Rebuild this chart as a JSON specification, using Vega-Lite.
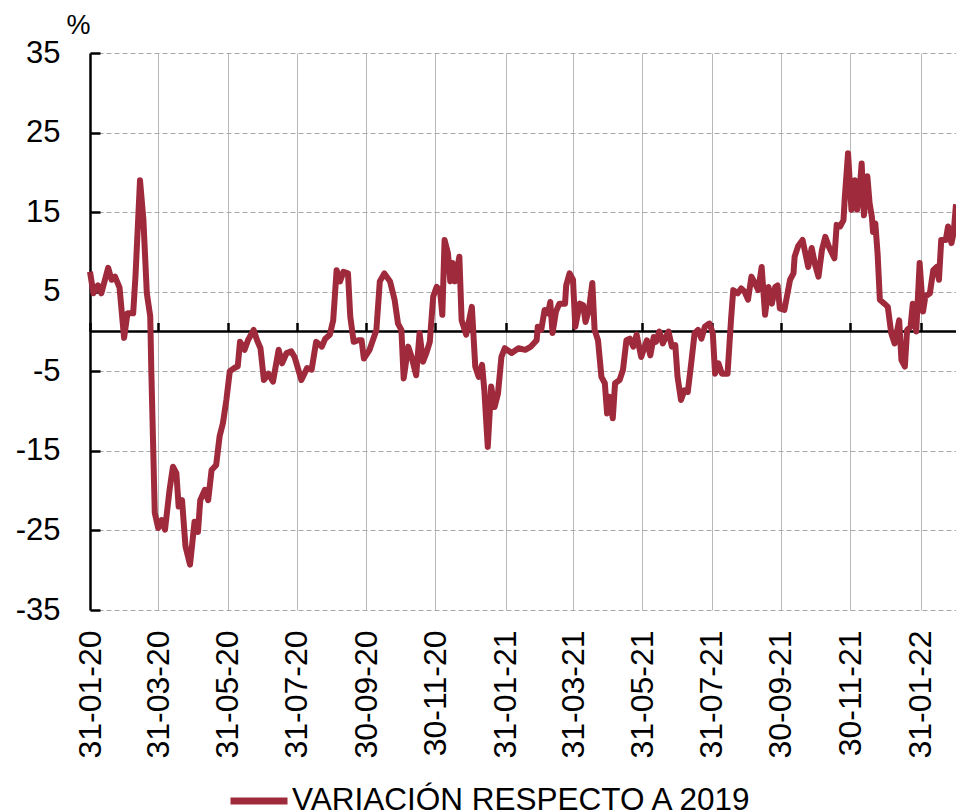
{
  "$schema": "https://vega.github.io/schema/vega-lite/v6.json",
  "width": 866,
  "height": 557,
  "autosize": {"type": "none"},
  "padding": {"left": 90, "top": 53, "right": 0, "bottom": 201},
  "background": "white",
  "config": {"font": "Liberation Sans", "view": {"stroke": null}},
  "data": {"values": [
    {"d":"2020-01-31","v":7.5},{"d":"2020-02-03","v":4.8},{"d":"2020-02-07","v":5.8},{"d":"2020-02-10","v":4.8},
    {"d":"2020-02-16","v":8.0},{"d":"2020-02-19","v":6.5},{"d":"2020-02-22","v":6.9},{"d":"2020-02-26","v":5.5},
    {"d":"2020-03-01","v":-0.8},{"d":"2020-03-04","v":2.3},{"d":"2020-03-09","v":2.3},{"d":"2020-03-11","v":6.9},
    {"d":"2020-03-15","v":19.0},{"d":"2020-03-18","v":14.0},{"d":"2020-03-21","v":4.8},{"d":"2020-03-24","v":1.9},
    {"d":"2020-03-25","v":-5.2},{"d":"2020-03-28","v":-22.8},{"d":"2020-03-31","v":-24.7},{"d":"2020-04-03","v":-23.7},
    {"d":"2020-04-06","v":-24.9},{"d":"2020-04-10","v":-19.9},{"d":"2020-04-13","v":-17.0},{"d":"2020-04-16","v":-17.8},
    {"d":"2020-04-18","v":-22.0},{"d":"2020-04-21","v":-21.2},{"d":"2020-04-24","v":-27.0},{"d":"2020-04-28","v":-29.3},
    {"d":"2020-05-02","v":-23.9},{"d":"2020-05-05","v":-25.2},{"d":"2020-05-07","v":-21.2},{"d":"2020-05-11","v":-19.9},
    {"d":"2020-05-14","v":-21.2},{"d":"2020-05-17","v":-17.4},{"d":"2020-05-21","v":-16.8},{"d":"2020-05-24","v":-13.2},
    {"d":"2020-05-27","v":-11.5},{"d":"2020-05-30","v":-8.6},{"d":"2020-06-02","v":-5.0},{"d":"2020-06-07","v":-4.5},
    {"d":"2020-06-09","v":-4.4},{"d":"2020-06-11","v":-1.3},{"d":"2020-06-15","v":-2.3},{"d":"2020-06-18","v":-1.1},
    {"d":"2020-06-23","v":0.2},{"d":"2020-06-26","v":-1.1},{"d":"2020-06-29","v":-2.1},{"d":"2020-07-02","v":-6.1},
    {"d":"2020-07-06","v":-5.3},{"d":"2020-07-10","v":-6.3},{"d":"2020-07-15","v":-2.3},{"d":"2020-07-18","v":-4.0},
    {"d":"2020-07-22","v":-2.7},{"d":"2020-07-26","v":-2.5},{"d":"2020-07-29","v":-3.2},{"d":"2020-08-04","v":-6.1},
    {"d":"2020-08-09","v":-4.6},{"d":"2020-08-13","v":-4.8},{"d":"2020-08-17","v":-1.3},{"d":"2020-08-22","v":-1.9},
    {"d":"2020-08-25","v":-0.9},{"d":"2020-08-29","v":-0.4},{"d":"2020-09-01","v":1.4},{"d":"2020-09-04","v":7.7},
    {"d":"2020-09-07","v":6.3},{"d":"2020-09-10","v":7.5},{"d":"2020-09-14","v":7.3},{"d":"2020-09-16","v":1.9},
    {"d":"2020-09-19","v":-1.3},{"d":"2020-09-23","v":-1.1},{"d":"2020-09-26","v":-1.1},{"d":"2020-09-28","v":-3.4},
    {"d":"2020-10-03","v":-2.3},{"d":"2020-10-09","v":0.2},{"d":"2020-10-12","v":6.3},{"d":"2020-10-16","v":7.3},
    {"d":"2020-10-21","v":6.3},{"d":"2020-10-25","v":4.0},{"d":"2020-10-28","v":1.0},{"d":"2020-10-31","v":0.2},
    {"d":"2020-11-02","v":-5.9},{"d":"2020-11-06","v":-1.9},{"d":"2020-11-09","v":-3.2},{"d":"2020-11-13","v":-5.5},
    {"d":"2020-11-16","v":-0.2},{"d":"2020-11-19","v":-3.8},{"d":"2020-11-22","v":-2.7},{"d":"2020-11-25","v":-1.3},
    {"d":"2020-11-28","v":4.4},{"d":"2020-12-01","v":5.6},{"d":"2020-12-04","v":5.2},{"d":"2020-12-06","v":2.1},
    {"d":"2020-12-08","v":11.5},{"d":"2020-12-11","v":9.8},{"d":"2020-12-13","v":6.3},{"d":"2020-12-15","v":8.6},
    {"d":"2020-12-17","v":6.3},{"d":"2020-12-21","v":9.4},{"d":"2020-12-23","v":1.4},{"d":"2020-12-27","v":-0.4},
    {"d":"2020-12-29","v":1.0},{"d":"2021-01-01","v":3.1},{"d":"2021-01-04","v":-4.4},{"d":"2021-01-07","v":-5.7},
    {"d":"2021-01-10","v":-4.2},{"d":"2021-01-12","v":-7.4},{"d":"2021-01-15","v":-14.5},{"d":"2021-01-18","v":-6.9},
    {"d":"2021-01-21","v":-9.5},{"d":"2021-01-24","v":-7.8},{"d":"2021-01-27","v":-3.2},{"d":"2021-01-30","v":-2.1},
    {"d":"2021-02-05","v":-2.7},{"d":"2021-02-11","v":-2.1},{"d":"2021-02-17","v":-2.3},{"d":"2021-02-22","v":-1.9},
    {"d":"2021-02-27","v":-1.1},{"d":"2021-02-28","v":0.6},{"d":"2021-03-03","v":0.2},{"d":"2021-03-06","v":2.7},
    {"d":"2021-03-09","v":2.3},{"d":"2021-03-11","v":3.7},{"d":"2021-03-13","v":-0.2},{"d":"2021-03-16","v":2.5},
    {"d":"2021-03-19","v":3.5},{"d":"2021-03-24","v":3.5},{"d":"2021-03-25","v":5.8},{"d":"2021-03-28","v":7.3},
    {"d":"2021-03-31","v":6.5},{"d":"2021-04-02","v":0.6},{"d":"2021-04-06","v":3.5},{"d":"2021-04-09","v":3.3},
    {"d":"2021-04-11","v":1.2},{"d":"2021-04-14","v":2.7},{"d":"2021-04-17","v":6.1},{"d":"2021-04-19","v":0.2},
    {"d":"2021-04-22","v":-1.1},{"d":"2021-04-25","v":-5.7},{"d":"2021-04-28","v":-6.5},{"d":"2021-04-30","v":-10.3},
    {"d":"2021-05-02","v":-8.2},{"d":"2021-05-05","v":-10.9},{"d":"2021-05-07","v":-6.5},{"d":"2021-05-11","v":-6.1},
    {"d":"2021-05-14","v":-4.8},{"d":"2021-05-17","v":-1.1},{"d":"2021-05-20","v":-0.9},{"d":"2021-05-23","v":-1.9},
    {"d":"2021-05-26","v":-0.4},{"d":"2021-05-30","v":-3.2},{"d":"2021-06-04","v":-1.1},{"d":"2021-06-07","v":-3.0},
    {"d":"2021-06-10","v":-0.7},{"d":"2021-06-12","v":-1.3},{"d":"2021-06-15","v":0.0},{"d":"2021-06-18","v":-1.5},
    {"d":"2021-06-23","v":0.0},{"d":"2021-06-26","v":-1.9},{"d":"2021-06-29","v":-1.7},{"d":"2021-07-01","v":-5.7},
    {"d":"2021-07-04","v":-8.6},{"d":"2021-07-07","v":-7.4},{"d":"2021-07-10","v":-7.6},{"d":"2021-07-13","v":-4.0},
    {"d":"2021-07-16","v":-0.2},{"d":"2021-07-19","v":0.2},{"d":"2021-07-22","v":-0.9},{"d":"2021-07-25","v":0.6},
    {"d":"2021-07-29","v":1.0},{"d":"2021-08-01","v":-0.2},{"d":"2021-08-03","v":-5.3},{"d":"2021-08-06","v":-4.0},
    {"d":"2021-08-09","v":-5.3},{"d":"2021-08-14","v":-5.3},{"d":"2021-08-17","v":1.4},{"d":"2021-08-19","v":5.2},
    {"d":"2021-08-23","v":4.8},{"d":"2021-08-26","v":5.4},{"d":"2021-08-29","v":5.0},{"d":"2021-09-01","v":4.0},
    {"d":"2021-09-04","v":6.9},{"d":"2021-09-07","v":6.1},{"d":"2021-09-10","v":5.2},{"d":"2021-09-13","v":8.1},
    {"d":"2021-09-16","v":2.1},{"d":"2021-09-19","v":5.6},{"d":"2021-09-22","v":3.5},{"d":"2021-09-25","v":5.6},
    {"d":"2021-09-27","v":5.8},{"d":"2021-09-29","v":2.9},{"d":"2021-10-03","v":2.7},{"d":"2021-10-08","v":6.5},
    {"d":"2021-10-11","v":7.3},{"d":"2021-10-12","v":9.4},{"d":"2021-10-15","v":10.7},{"d":"2021-10-19","v":11.5},
    {"d":"2021-10-24","v":8.1},{"d":"2021-10-27","v":10.5},{"d":"2021-10-30","v":8.4},{"d":"2021-11-02","v":6.9},
    {"d":"2021-11-05","v":10.2},{"d":"2021-11-08","v":11.9},{"d":"2021-11-11","v":10.7},{"d":"2021-11-16","v":9.2},
    {"d":"2021-11-18","v":13.4},{"d":"2021-11-21","v":13.2},{"d":"2021-11-24","v":14.0},{"d":"2021-11-25","v":16.5},
    {"d":"2021-11-28","v":22.4},{"d":"2021-12-01","v":15.3},{"d":"2021-12-04","v":19.0},{"d":"2021-12-06","v":15.3},
    {"d":"2021-12-08","v":17.4},{"d":"2021-12-10","v":21.1},{"d":"2021-12-12","v":14.6},{"d":"2021-12-15","v":19.5},
    {"d":"2021-12-17","v":16.1},{"d":"2021-12-19","v":14.4},{"d":"2021-12-20","v":12.5},{"d":"2021-12-22","v":13.6},
    {"d":"2021-12-24","v":9.8},{"d":"2021-12-26","v":4.0},{"d":"2021-12-30","v":3.5},{"d":"2022-01-02","v":3.1},
    {"d":"2022-01-05","v":-0.2},{"d":"2022-01-08","v":-1.5},{"d":"2022-01-12","v":1.4},{"d":"2022-01-14","v":-3.6},
    {"d":"2022-01-17","v":-4.4},{"d":"2022-01-19","v":0.2},{"d":"2022-01-22","v":0.6},{"d":"2022-01-24","v":3.5},
    {"d":"2022-01-27","v":0.0},{"d":"2022-01-30","v":8.6},{"d":"2022-02-02","v":2.5},{"d":"2022-02-04","v":4.4},
    {"d":"2022-02-08","v":4.8},{"d":"2022-02-11","v":7.7},{"d":"2022-02-14","v":8.1},{"d":"2022-02-16","v":6.5},
    {"d":"2022-02-18","v":11.5},{"d":"2022-02-22","v":11.5},{"d":"2022-02-24","v":13.2},{"d":"2022-02-27","v":11.1},
    {"d":"2022-03-01","v":12.5},{"d":"2022-03-03","v":16.0}
  ]},
  "resolve": {"axis": {"x": "independent"}},
  "layer": [
    {
      "mark": {"type": "line", "color": "black", "strokeWidth": 2.5},
      "encoding": {
        "x": {
          "field": "d", "type": "temporal",
          "scale": {"type": "utc", "domain": [{"year": 2020, "month": 1, "date": 31, "utc": true}, {"year": 2022, "month": 3, "date": 3, "utc": true}]},
          "axis": {
            "orient": "bottom", "offset": -278.5, "title": null, "labels": false, "grid": false, "domain": false,
            "ticks": true, "tickSize": -9, "tickWidth": 2.5, "tickColor": "black",
            "values": [
              {"year": 2020, "month": 1, "date": 31, "utc": true}, {"year": 2020, "month": 3, "date": 31, "utc": true},
              {"year": 2020, "month": 5, "date": 31, "utc": true}, {"year": 2020, "month": 7, "date": 31, "utc": true},
              {"year": 2020, "month": 9, "date": 30, "utc": true}, {"year": 2020, "month": 11, "date": 30, "utc": true},
              {"year": 2021, "month": 1, "date": 31, "utc": true}, {"year": 2021, "month": 3, "date": 31, "utc": true},
              {"year": 2021, "month": 5, "date": 31, "utc": true}, {"year": 2021, "month": 7, "date": 31, "utc": true},
              {"year": 2021, "month": 9, "date": 30, "utc": true}, {"year": 2021, "month": 11, "date": 30, "utc": true},
              {"year": 2022, "month": 1, "date": 31, "utc": true}
            ]
          }
        },
        "y": {
          "datum": 0, "type": "quantitative",
          "scale": {"domain": [-35, 35], "nice": false, "zero": false},
          "axis": {
            "values": [-35, -25, -15, -5, 5, 15, 25, 35], "labelExpr": "toString(datum.value)",
            "title": "%", "titleAngle": 0, "titleX": -12, "titleY": -28, "titleAlign": "center", "titleBaseline": "middle",
            "titleFontSize": 27, "titleFontWeight": "normal", "titleColor": "black",
            "labelFontSize": 31, "labelColor": "black", "labelPadding": 40, "labelFlush": false, "labelBound": false,
            "domain": true, "domainColor": "black", "domainWidth": 2.5,
            "ticks": true, "tickSize": -10, "tickWidth": 2.5, "tickColor": "black",
            "grid": true, "gridDash": [5, 3], "gridColor": "#a8a8a8", "gridWidth": 1
          }
        }
      }
    },
    {
      "mark": {"type": "line", "strokeWidth": 6, "strokeJoin": "round"},
      "encoding": {
        "x": {
          "field": "d", "type": "temporal",
          "scale": {"type": "utc", "domain": [{"year": 2020, "month": 1, "date": 31, "utc": true}, {"year": 2022, "month": 3, "date": 3, "utc": true}]},
          "axis": {
            "orient": "bottom", "title": null, "format": "%d-%m-%y",
            "labelAngle": -90, "labelFontSize": 32, "labelColor": "black", "labelPadding": 20, "labelOverlap": false,
            "labelFlush": false, "labelBound": false,
            "ticks": false, "domain": false, "grid": true, "gridColor": "#b8b8b8", "gridWidth": 1,
            "values": [
              {"year": 2020, "month": 1, "date": 31, "utc": true}, {"year": 2020, "month": 3, "date": 31, "utc": true},
              {"year": 2020, "month": 5, "date": 31, "utc": true}, {"year": 2020, "month": 7, "date": 31, "utc": true},
              {"year": 2020, "month": 9, "date": 30, "utc": true}, {"year": 2020, "month": 11, "date": 30, "utc": true},
              {"year": 2021, "month": 1, "date": 31, "utc": true}, {"year": 2021, "month": 3, "date": 31, "utc": true},
              {"year": 2021, "month": 5, "date": 31, "utc": true}, {"year": 2021, "month": 7, "date": 31, "utc": true},
              {"year": 2021, "month": 9, "date": 30, "utc": true}, {"year": 2021, "month": 11, "date": 30, "utc": true},
              {"year": 2022, "month": 1, "date": 31, "utc": true}
            ]
          }
        },
        "y": {
          "field": "v", "type": "quantitative",
          "scale": {"domain": [-35, 35], "nice": false, "zero": false},
          "axis": {
            "values": [-35, -25, -15, -5, 5, 15, 25, 35], "labelExpr": "toString(datum.value)",
            "title": "%", "titleAngle": 0, "titleX": -12, "titleY": -28, "titleAlign": "center", "titleBaseline": "middle",
            "titleFontSize": 27, "titleFontWeight": "normal", "titleColor": "black",
            "labelFontSize": 31, "labelColor": "black", "labelPadding": 40, "labelFlush": false, "labelBound": false,
            "domain": true, "domainColor": "black", "domainWidth": 2.5,
            "ticks": true, "tickSize": -10, "tickWidth": 2.5, "tickColor": "black",
            "grid": true, "gridDash": [5, 3], "gridColor": "#a8a8a8", "gridWidth": 1
          }
        },
        "color": {
          "datum": "VARIACIÓN RESPECTO A 2019", "type": "nominal",
          "scale": {"range": ["#9F2A3C"]},
          "legend": {
            "title": null, "orient": "none", "legendX": 137, "legendY": 716, "direction": "horizontal",
            "symbolType": "stroke", "symbolSize": 3249, "symbolStrokeWidth": 7,
            "labelFontSize": 31.5, "labelColor": "black", "labelOffset": 1, "labelLimit": 0, "padding": 0
          }
        }
      }
    }
  ]
}
